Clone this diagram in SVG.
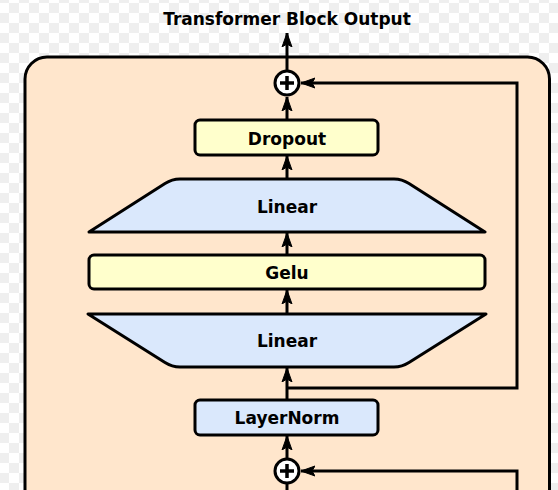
<svg xmlns="http://www.w3.org/2000/svg" width="558" height="490" viewBox="0 0 558 490">
  <defs>
    <pattern id="checker" x="-1" y="3" width="20" height="20" patternUnits="userSpaceOnUse">
      <rect x="0" y="0" width="20" height="20" fill="#ffffff"/>
      <rect x="10" y="0" width="10" height="10" fill="#efefef"/>
      <rect x="0" y="10" width="10" height="10" fill="#efefef"/>
    </pattern>
    <marker id="arrow" viewBox="-14 -6 15 12" refX="0" refY="0" markerWidth="15" markerHeight="12" markerUnits="userSpaceOnUse" orient="auto">
      <path d="M0,0 L-14,-5 L-11,0 L-14,5 Z" fill="#000000" stroke="#000000" stroke-width="1" stroke-linejoin="miter"/>
    </marker>
    <style>
      .shape { stroke: #000000; stroke-width: 3; stroke-linejoin: round; }
      .yellow { fill: #ffffcc; }
      .blue { fill: #dae8fc; }
      .label { font-family: "DejaVu Sans", "Liberation Sans", sans-serif; font-weight: bold; font-size: 17px; fill: #000000; text-anchor: middle; }
      .conn { fill: none; stroke: #000000; stroke-width: 3; }
      .plus { fill: #ffffff; stroke: #000000; stroke-width: 3; }
    </style>
  </defs>

  <rect x="0" y="0" width="558" height="490" fill="url(#checker)"/>

  <g id="block">
    <rect x="25" y="57" width="524.5" height="520" rx="22" ry="22" fill="#ffe6cc" stroke="#000000" stroke-width="3"/>
  </g>

  <text id="title" class="label" x="287" y="25">Transformer Block Output</text>

  <g id="connectors">
    <line class="conn" x1="287" y1="71" x2="287" y2="33" marker-end="url(#arrow)"/>
    <line class="conn" x1="287" y1="120" x2="287" y2="97" marker-end="url(#arrow)"/>
    <line class="conn" x1="287" y1="179" x2="287" y2="156" marker-end="url(#arrow)"/>
    <line class="conn" x1="287" y1="255" x2="287" y2="233" marker-end="url(#arrow)"/>
    <line class="conn" x1="287" y1="314" x2="287" y2="290" marker-end="url(#arrow)"/>
    <line class="conn" x1="287" y1="400" x2="287" y2="368" marker-end="url(#arrow)"/>
    <polyline class="conn" points="287,388 517,388 517,83 301,83" marker-end="url(#arrow)"/>
    <line class="conn" x1="287" y1="458" x2="287" y2="436" marker-end="url(#arrow)"/>
    <polyline class="conn" points="517,500 517,471 301,471" marker-end="url(#arrow)"/>
    <line class="conn" x1="287" y1="484" x2="287" y2="500"/>
  </g>

  <g id="add-top">
    <circle class="plus" cx="287" cy="83" r="12"/>
    <path d="M280,83 H294 M287,76 V90" stroke="#000000" stroke-width="3.5" fill="none"/>
  </g>

  <g id="dropout">
    <rect class="shape yellow" x="195" y="120" width="183" height="35" rx="5" ry="5"/>
    <text class="label" x="287" y="145">Dropout</text>
  </g>

  <g id="linear-top">
    <path class="shape blue" d="M89,232 L165,183.5 Q172,179 180,179 L394,179 Q402,179 409,183.5 L485,232 Z"/>
    <text class="label" x="287" y="213">Linear</text>
  </g>

  <g id="gelu">
    <rect class="shape yellow" x="89" y="255" width="396" height="34" rx="5" ry="5"/>
    <text class="label" x="287" y="279">Gelu</text>
  </g>

  <g id="linear-bottom">
    <path class="shape blue" d="M88,314 L486,314 L409,362.5 Q402,367 394,367 L180,367 Q172,367 165,362.5 Z"/>
    <text class="label" x="287" y="347">Linear</text>
  </g>

  <g id="layernorm">
    <rect class="shape blue" x="195" y="400" width="183" height="35" rx="5" ry="5"/>
    <text class="label" x="287" y="424">LayerNorm</text>
  </g>

  <g id="add-bottom">
    <circle class="plus" cx="287" cy="471" r="12"/>
    <path d="M280,471 H294 M287,464 V478" stroke="#000000" stroke-width="3.5" fill="none"/>
  </g>
</svg>
